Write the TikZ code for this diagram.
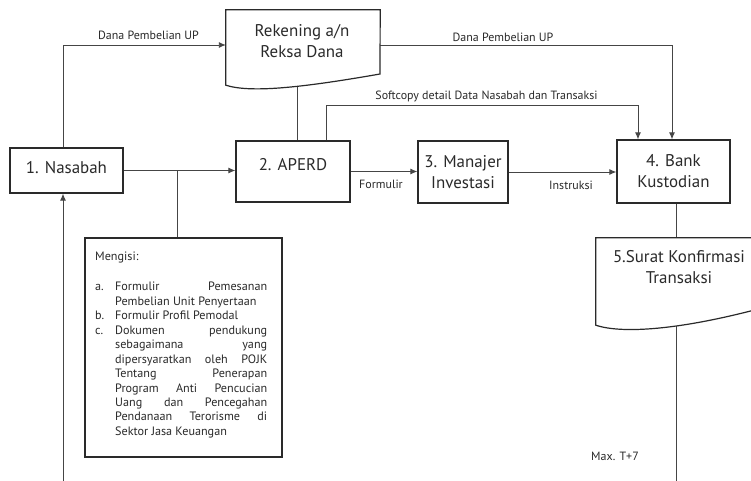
\documentclass[tikz,border=0pt]{standalone}
\usepackage{fontspec}
\setmainfont{PT Sans}
\usetikzlibrary{arrows.meta}
\definecolor{ink}{HTML}{2A2A2A}
\definecolor{wire}{HTML}{454545}
\begin{document}
\begin{tikzpicture}[x=1bp,y=-1bp,
  box/.style={draw=ink, line width=1.3bp, inner sep=0pt},
  boxtext/.style={align=center, inner sep=0pt, text=ink, font=\fontsize{17}{21}\selectfont},
  docshape/.style={draw=ink, line width=1.2bp, fill=white},
  wire/.style={draw=wire, line width=0.9bp},
  arr/.style={wire, -{Latex[length=7bp,width=6bp]}},
  lbl/.style={inner sep=0pt, text=ink, font=\fontsize{12}{14}\selectfont}]
\useasboundingbox (0,0) rectangle (751,481);
\fill[white] (0,0) rectangle (751,481);
\clip (0,0) rectangle (751,481);

% boxes
\node[box, minimum width=113bp, minimum height=45bp] (nas) at (66.5,170.5) {};
\node[boxtext, yshift=3bp] (nast) at (nas) {1. Nasabah};
\node[box, minimum width=114bp, minimum height=61bp] (aperd) at (293,171.5) {};
\node[boxtext, yshift=7bp] (aperdt) at (aperd) {2. APERD};
\node[box, boxtext, minimum width=90bp, minimum height=62bp] (mi) at (463,172) {3. Manajer\\Investasi};
\node[box, boxtext, minimum width=113bp, minimum height=63bp] (bank) at (673.5,171.5) {4. Bank\\Kustodian};
\node[minimum width=154bp, minimum height=75bp, inner sep=0pt] (rek) at (303,47.5) {};
\node[minimum width=166bp, minimum height=87bp, inner sep=0pt] (doc5) at (679,281.5) {};
\node[draw=ink, line width=1.1bp, minimum width=197bp, minimum height=219bp, inner sep=0pt] (isi) at (183.5,347.5) {};

% coordinates
\coordinate (nasUp) at (63,45);
\coordinate (bot1) at (63,481);
\coordinate (br) at (177,170.5);
\coordinate (rekdown) at (297,60);
\coordinate (sc) at (326,105);
\coordinate (scR) at (638,105);
\coordinate (rbR) at (672,45);
\coordinate (bot5) at (676,481);

% connectors
\draw[arr] (nas.north -| nasUp) -- (nasUp) -- (rek.west |- nasUp);
\draw[wire] (rekdown) -- (rekdown |- aperd.north);
\draw[arr] (aperd.north -| sc) -- (sc) -- (scR) -- (bank.north -| scR);
\draw[arr] (rek.east |- rbR) -- (rbR) -- (bank.north -| rbR);
\draw[arr] (nas.east) -- (nas.east -| aperd.west);
\draw[wire] (br) -- (br |- isi.north);
\draw[arr] (aperd.east) -- (aperd.east -| mi.west);
\draw[arr] (mi.east) -- (mi.east -| bank.west);
\draw[wire] (bank.south -| bot5) -- (doc5.north -| bot5);
\draw[wire] (doc5.center -| bot5) -- (bot5);
\draw[arr] (bot1) -- (bot1 |- nas.south);

% document shapes
\draw[docshape] (rek.north west) -- (rek.north east) -- (380,74)
  .. controls (300,88) and (250,93) .. (rek.south west) -- cycle;
\draw[docshape] (doc5.north west) -- (doc5.north east) -- (762,308)
  .. controls (680,330) and (622,334) .. (doc5.south west) -- cycle;
\node[boxtext] (rekt) at (302,41) {Rekening a/n\\Reksa Dana};
\node[boxtext] (doc5t) at (679,267) {5.Surat Konfirmasi\\Transaksi};

% labels
\node[lbl] (l1) at (148.5,35) {Dana Pembelian UP};
\node[lbl] (l2) at (503,37) {Dana Pembelian UP};
\node[lbl] (l3) at (486.5,96) {Softcopy detail Data Nasabah dan Transaksi};
\node[lbl] (l4) at (381,184) {Formulir};
\node[lbl] (l5) at (571,185) {Instruksi};
\node[lbl] (l6) at (615,456) {Max. T+7};

% text box content
\node[anchor=base west, inner sep=0pt, text=ink, font=\fontsize{12.2}{14.5}\selectfont] (isitext) at (95,261) {\parbox[t]{172bp}{%
\hyphenpenalty=10000\exhyphenpenalty=10000\emergencystretch=20bp%
Mengisi:\par\vspace{15.5bp}%
\noindent\hangindent=20bp\hangafter=1\makebox[20bp][l]{a.}Formulir Pemesanan\linebreak Pembelian Unit Penyertaan\par
\noindent\hangindent=20bp\hangafter=1\makebox[20bp][l]{b.}Formulir Profil Pemodal\par
\noindent\hangindent=20bp\hangafter=1\makebox[20bp][l]{c.}Dokumen pendukung\linebreak sebagaimana yang\linebreak dipersyaratkan oleh POJK\linebreak Tentang Penerapan\linebreak Program Anti Pencucian\linebreak Uang dan Pencegahan\linebreak Pendanaan Terorisme di\linebreak Sektor Jasa Keuangan\par}};
\end{tikzpicture}
\end{document}
